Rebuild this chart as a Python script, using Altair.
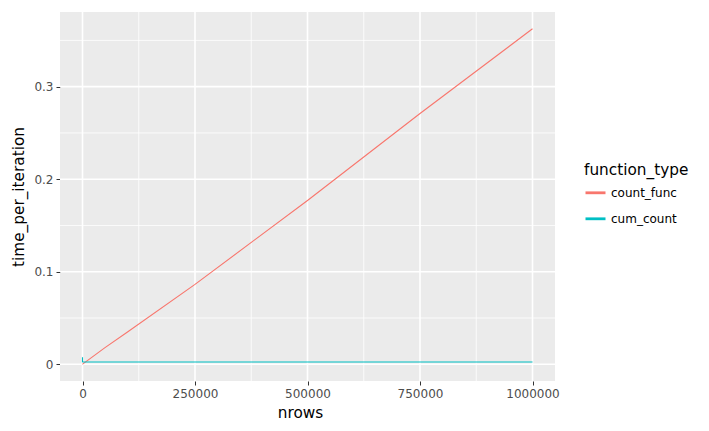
import altair as alt
import pandas as pd

nrows = [1, 10, 100, 1000, 10000, 50000, 100000, 250000, 500000, 750000, 1000000]
count_func = [0.00005, 0.00005, 0.0001, 0.0004, 0.0036, 0.0180, 0.0349, 0.0863, 0.1770, 0.2710, 0.3626]
cum_count = [0.0075, 0.0030, 0.0026, 0.0025, 0.0025, 0.0025, 0.0025, 0.0025, 0.0025, 0.0025, 0.0025]
types = ["count_func", "cum_count"]
colors = ["#F8766D", "#00BFC4"]

x_major = [0, 250000, 500000, 750000, 1000000]
x_minor = [125000, 375000, 625000, 875000]
y_major = [0, 0.1, 0.2, 0.3]
y_minor = [0.05, 0.15, 0.25, 0.35]

rows = []
for n, v in zip(nrows, count_func):
    rows.append({"nrows": n, "time_per_iteration": v, "function_type": types[0]})
for n, v in zip(nrows, cum_count):
    rows.append({"nrows": n, "time_per_iteration": v, "function_type": types[1]})
df = pd.DataFrame(rows)

xdom = [-50000, 1050000]
ydom = [-0.0181, 0.3807]
xs = alt.Scale(domain=xdom, nice=False, zero=False)
ys = alt.Scale(domain=ydom, nice=False, zero=False)

FONT = "DejaVu Sans"

xaxis = alt.Axis(values=x_major, format="d", grid=False, title="nrows", titleX=240)
yaxis = alt.Axis(values=y_major, format="~g", grid=False, title="time_per_iteration")

xminor_df = pd.DataFrame({"nrows": x_minor})
yminor_df = pd.DataFrame({"time_per_iteration": y_minor})
xmajor_df = pd.DataFrame({"nrows": x_major})
ymajor_df = pd.DataFrame({"time_per_iteration": y_major})

gx_minor = alt.Chart(xminor_df).mark_rule(color="white", strokeWidth=0.8).encode(
    x=alt.X("nrows:Q", scale=xs, axis=xaxis))
gy_minor = alt.Chart(yminor_df).mark_rule(color="white", strokeWidth=0.8).encode(
    y=alt.Y("time_per_iteration:Q", scale=ys, axis=yaxis))
gx_major = alt.Chart(xmajor_df).mark_rule(color="white", strokeWidth=1.6).encode(
    x=alt.X("nrows:Q", scale=xs, axis=xaxis))
gy_major = alt.Chart(ymajor_df).mark_rule(color="white", strokeWidth=1.6).encode(
    y=alt.Y("time_per_iteration:Q", scale=ys, axis=yaxis))

lines = alt.Chart(df).mark_line(strokeWidth=1.1).encode(
    x=alt.X("nrows:Q", scale=xs, axis=xaxis),
    y=alt.Y("time_per_iteration:Q", scale=ys, axis=yaxis),
    color=alt.Color("function_type:N",
                    scale=alt.Scale(domain=types, range=colors),
                    legend=alt.Legend(title="function_type", orient="none",
                                      legendX=524, legendY=151,
                                      symbolType="stroke", symbolStrokeWidth=2.8,
                                      symbolSize=400, rowPadding=8,
                                      labelFontSize=12, titleFontSize=15.3,
                                      titleFontWeight="normal", titleColor="black",
                                      labelColor="black", labelFont=FONT, titleFont=FONT,
                                      titlePadding=3, labelOffset=4)),
    detail="function_type:N",
)

chart = alt.layer(gx_minor, gy_minor, gx_major, gy_major, lines).properties(
    width=495, height=369,
    autosize=alt.AutoSizeParams(type="none"),
    padding={"left": 52, "top": 4, "right": 146, "bottom": 42},
).configure_view(fill="#EBEBEB", stroke=None).configure_axis(
    domain=False, tickColor="#333333", tickSize=4, tickWidth=1,
    labelColor="#4D4D4D", labelFontSize=12, labelFont=FONT,
    titleFont=FONT, titleFontSize=15.3, titleFontWeight="normal", titleColor="black",
    labelPadding=3,
).configure_axisX(titlePadding=6).configure_axisY(titlePadding=7)

chart.save("out.html", embed_options={"renderer": "svg", "actions": False})
